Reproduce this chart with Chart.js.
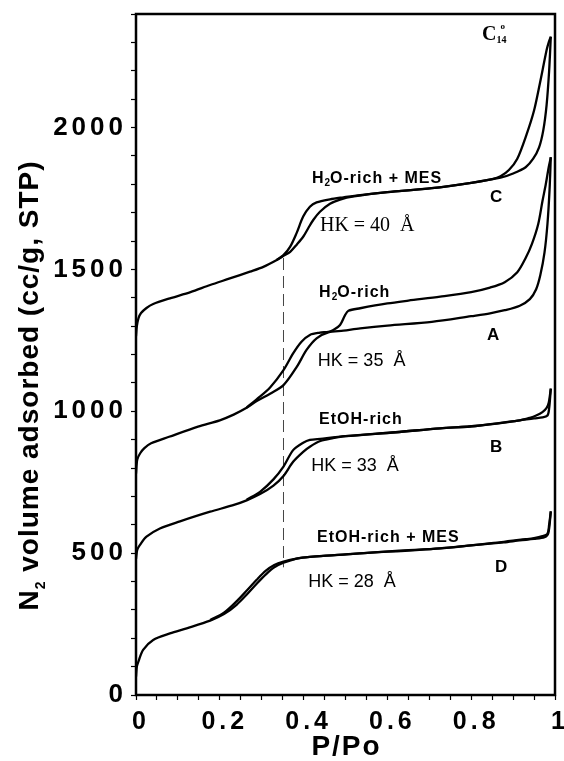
<!DOCTYPE html>
<html>
<head>
<meta charset="utf-8">
<script src="https://cdn.jsdelivr.net/npm/chart.js@4.4.1/dist/chart.umd.min.js"></script>
<style>
html, body { margin: 0; padding: 0; background: #fff; }
#wrap { width: 564px; height: 761px; }
</style>
</head>
<body>
<div id="wrap"><canvas id="chart" width="564" height="761"></canvas></div>
<script>
// isotherm C : H2O-rich + MES
const C_ADS_P = [0, 0.002, 0.006, 0.012, 0.025, 0.041, 0.081, 0.13, 0.177, 0.224, 0.272, 0.304, 0.336, 0.352, 0.368, 0.384, 0.399, 0.411, 0.423, 0.439, 0.463, 0.487, 0.52, 0.6, 0.706, 0.8, 0.87, 0.9, 0.93, 0.948, 0.962, 0.972, 0.98, 0.986, 0.99];
const C_ADS_V = [1265, 1300, 1328, 1346, 1364, 1378, 1398, 1420, 1445, 1468, 1492, 1509, 1533, 1548, 1562, 1588, 1615, 1645, 1674, 1703, 1731, 1746, 1757, 1772, 1786, 1805, 1823, 1838, 1860, 1890, 1930, 1990, 2080, 2200, 2320];
const C_DES_P = [0.99, 0.985, 0.98, 0.964, 0.95, 0.932, 0.91, 0.89, 0.87, 0.85, 0.8, 0.706, 0.6, 0.535, 0.495, 0.463, 0.431, 0.415, 0.399, 0.383, 0.368, 0.352, 0.336];
const C_DES_V = [2320, 2300, 2273, 2156, 2060, 1975, 1890, 1850, 1828, 1818, 1805, 1786, 1772, 1762, 1754, 1747, 1736, 1721, 1686, 1627, 1580, 1550, 1533];

// isotherm A : H2O-rich
const A_ADS_P = [0, 0.003, 0.01, 0.02, 0.036, 0.079, 0.148, 0.2, 0.233, 0.264, 0.288, 0.32, 0.352, 0.384, 0.407, 0.431, 0.459, 0.495, 0.535, 0.6, 0.706, 0.8, 0.845, 0.88, 0.916, 0.94, 0.955, 0.965, 0.975, 0.982, 0.987, 0.99];
const A_ADS_V = [780, 830, 852, 870, 887, 910, 946, 968, 988, 1012, 1036, 1062, 1092, 1157, 1216, 1257, 1278, 1284, 1292, 1302, 1315, 1335, 1345, 1356, 1372, 1395, 1430, 1480, 1560, 1660, 1780, 1895];
const A_DES_P = [0.99, 0.985, 0.978, 0.97, 0.96, 0.945, 0.93, 0.91, 0.88, 0.845, 0.8, 0.726, 0.65, 0.6, 0.535, 0.507, 0.499, 0.487, 0.471, 0.459, 0.439, 0.415, 0.395, 0.375, 0.352, 0.32, 0.288, 0.264];
const A_DES_V = [1895, 1860, 1800, 1740, 1660, 1590, 1540, 1490, 1455, 1436, 1420, 1404, 1390, 1380, 1363, 1354, 1339, 1304, 1286, 1280, 1277, 1269, 1245, 1204, 1145, 1084, 1042, 1013];

// isotherm B : EtOH-rich
const B_ADS_P = [0, 0.003, 0.0095, 0.025, 0.057, 0.105, 0.177, 0.23, 0.264, 0.296, 0.328, 0.352, 0.375, 0.399, 0.415, 0.44, 0.47, 0.5, 0.62, 0.726, 0.81, 0.916, 0.95, 0.97, 0.982, 0.986, 0.99];
const B_ADS_V = [480, 512, 529, 558, 587, 612, 646, 668, 686, 708, 738, 772, 822, 857, 875, 895, 905, 912, 926, 940, 948, 968, 975, 978, 985, 1010, 1080];
const B_DES_P = [0.99, 0.985, 0.98, 0.97, 0.955, 0.94, 0.916, 0.81, 0.726, 0.62, 0.5, 0.44, 0.415, 0.399, 0.375, 0.352, 0.328, 0.296, 0.264];
const B_DES_V = [1080, 1030, 1012, 997, 985, 977, 968, 948, 940, 926, 912, 903, 899, 889, 863, 805, 760, 716, 688];

// isotherm D : EtOH-rich + MES
const D_ADS_P = [0, 0.002, 0.0055, 0.017, 0.041, 0.081, 0.121, 0.177, 0.21, 0.24, 0.265, 0.288, 0.31, 0.33, 0.352, 0.383, 0.415, 0.534, 0.62, 0.726, 0.8, 0.878, 0.916, 0.95, 0.975, 0.984, 0.99];
const D_ADS_V = [65, 100, 117, 159, 194, 217, 235, 262, 285, 318, 355, 392, 425, 450, 466, 481, 487, 499, 508, 517, 527, 538, 545, 550, 556, 570, 647];
const D_DES_P = [0.99, 0.986, 0.982, 0.97, 0.95, 0.93, 0.878, 0.726, 0.534, 0.415, 0.383, 0.352, 0.33, 0.31, 0.288, 0.265, 0.24, 0.21, 0.177];
const D_DES_V = [647, 600, 568, 560, 553, 549, 540, 517, 499, 487, 481, 470, 458, 438, 406, 369, 330, 290, 264];

// dashed marker line
const DASH_P = [0.352, 0.352];
const DASH_V = [1540, 450];

// axes
const X_MIN = 0, X_MAX = 1, X_STEP = 0.05;
const Y_MIN = 0, Y_MAX = 2400, Y_STEP = 100;

const SANS = '"Liberation Sans", Arial, sans-serif';
const SERIF = '"Liberation Serif", "Times New Roman", serif';

// text styles for the annotations
const BOLD = { font: 'bold 16px ' + SANS, ls: '1px' };
const BSUB = { font: 'bold 10px ' + SANS, ls: '0px', dy: 3 };
const LETTER = { font: 'bold 17px ' + SANS, ls: '0px' };
const HK = { font: '18px ' + SANS, ls: '0px' };
const HKSERIF = { font: '20px ' + SERIF, ls: '0px' };

// annotations (anchor = left end of baseline, in P/Po and cc/g)
const NOTES = [
  { p: 0.826, v: 2308, parts: [['C', { font: 'bold 20px ' + SERIF }], ['14', { font: 'bold 10px ' + SERIF, dy: 3 }], ['o', { font: 'bold 9px ' + SERIF, dy: -11, dx: -6 }]] },
  { p: 0.420, v: 1804, parts: [['H', BOLD], ['2', BSUB], ['O-rich + MES', BOLD]] },
  { p: 0.845, v: 1737, parts: [['C', LETTER]] },
  { p: 0.439, v: 1635, parts: [['HK = 40  Å', HKSERIF]] },
  { p: 0.437, v: 1403, parts: [['H', BOLD], ['2', BSUB], ['O-rich', BOLD]] },
  { p: 0.838, v: 1251, parts: [['A', LETTER]] },
  { p: 0.434, v: 1159, parts: [['HK = 35  Å', HK]] },
  { p: 0.437, v: 955, parts: [['EtOH-rich', BOLD]] },
  { p: 0.845, v: 856, parts: [['B', LETTER]] },
  { p: 0.418, v: 789, parts: [['HK = 33  Å', HK]] },
  { p: 0.432, v: 539, parts: [['EtOH-rich + MES', BOLD]] },
  { p: 0.857, v: 433, parts: [['D', LETTER]] },
  { p: 0.411, v: 381, parts: [['HK = 28  Å', HK]] }
];

function toPoints(ps, vs) {
    return ps.map((p, i) => ({ x: p, y: vs[i] }));
}

function branch(ps, vs) {
    return {
        data: toPoints(ps, vs),
        borderColor: '#000',
        borderWidth: 2.3,
        pointRadius: 0,
        tension: 0.3,
        fill: false
    };
}

// draw a run of text pieces (sub/superscripts) from x, y
function drawParts(ctx, parts, x, y) {
    parts.forEach(([text, st]) => {
        ctx.font = st.font;
        ctx.letterSpacing = st.ls || '0px';
        x += st.dx || 0;
        ctx.fillText(text, x, y + (st.dy || 0));
        x += ctx.measureText(text).width;
    });
}

function partsWidth(ctx, parts) {
    let w = 0;
    parts.forEach(([text, st]) => {
        ctx.font = st.font;
        ctx.letterSpacing = st.ls || '0px';
        w += (st.dx || 0) + ctx.measureText(text).width;
    });
    return w;
}

const decor = {
    id: 'decor',
    beforeDraw(chart) {
        // wide spacing of the tick numbers
        chart.ctx.letterSpacing = '4px';
    },
    afterDatasetsDraw(chart) {
        const { ctx, chartArea: a } = chart;
        ctx.save();
        ctx.strokeStyle = '#000';
        ctx.lineWidth = 2.5;
        ctx.strokeRect(a.left, a.top, a.right - a.left, a.bottom - a.top);
        ctx.restore();
    },
    afterDraw(chart) {
        const { ctx, chartArea: a } = chart;
        const xs = chart.scales.x, ys = chart.scales.y;
        ctx.save();
        ctx.fillStyle = '#000';
        ctx.textAlign = 'left';
        ctx.textBaseline = 'alphabetic';

        NOTES.forEach(n => {
            drawParts(ctx, n.parts, xs.getPixelForValue(n.p), ys.getPixelForValue(n.v));
        });

        // x title
        const xt = [['P/Po', { font: 'bold 28px ' + SANS, ls: '2px' }]];
        drawParts(ctx, xt, (a.left + a.right) / 2 - partsWidth(ctx, xt) / 2 + 1, 755);

        // y title, rotated
        const big = { font: 'bold 28px ' + SANS, ls: '1px' };
        const yt = [['N', big], ['2', { font: 'bold 14px ' + SANS, ls: '1px', dy: 7 }], [' volume adsorbed (cc/g, STP)', big]];
        ctx.translate(38, (a.top + a.bottom) / 2 + 31);
        ctx.rotate(-Math.PI / 2);
        drawParts(ctx, yt, -partsWidth(ctx, yt) / 2, 0);
        ctx.restore();
        ctx.letterSpacing = '0px';
    }
};

new Chart(document.getElementById('chart'), {
    type: 'line',
    data: {
        datasets: [
            branch(C_ADS_P, C_ADS_V), branch(C_DES_P, C_DES_V),
            branch(A_ADS_P, A_ADS_V), branch(A_DES_P, A_DES_V),
            branch(B_ADS_P, B_ADS_V), branch(B_DES_P, B_DES_V),
            branch(D_ADS_P, D_ADS_V), branch(D_DES_P, D_DES_V),
            {
                data: toPoints(DASH_P, DASH_V),
                borderColor: '#444',
                borderWidth: 1,
                borderDash: [12, 6],
                pointRadius: 0,
                tension: 0
            }
        ]
    },
    options: {
        responsive: false,
        animation: false,
        devicePixelRatio: 1,
        layout: { padding: { left: 0, top: 14, right: 9, bottom: 0 } },
        plugins: { legend: { display: false }, tooltip: { enabled: false } },
        scales: {
            x: {
                type: 'linear',
                min: X_MIN, max: X_MAX,
                border: { display: false },
                grid: { drawOnChartArea: false, tickLength: 5, tickColor: '#000', tickWidth: 1.2 },
                ticks: {
                    stepSize: X_STEP,
                    autoSkip: false,
                    maxRotation: 0,
                    padding: 7,
                    labelOffset: 5,
                    color: '#000',
                    font: { family: SANS, size: 25, weight: 'bold' },
                    callback: v => {
                        const k = Math.round(v / X_STEP);
                        if (k % 4 !== 0) return '';
                        return (k === 0 || k === 20) ? String(k / 20) : (k / 20).toFixed(1);
                    }
                },
                afterFit(s) { s.height = 66; s.paddingLeft = 0; s.paddingRight = 0; }
            },
            y: {
                min: Y_MIN, max: Y_MAX,
                border: { display: false },
                grid: { drawOnChartArea: false, tickLength: 5, tickColor: '#000', tickWidth: 1.2 },
                ticks: {
                    stepSize: Y_STEP,
                    autoSkip: false,
                    padding: 4,
                    color: '#000',
                    font: { family: SANS, size: 26, weight: 'bold' },
                    callback: v => (v % 500 === 0 ? String(v) : '')
                },
                afterFit(s) { s.width = 136; s.paddingTop = 0; s.paddingBottom = 0; }
            }
        }
    },
    plugins: [decor]
});
</script>
</body>
</html>
